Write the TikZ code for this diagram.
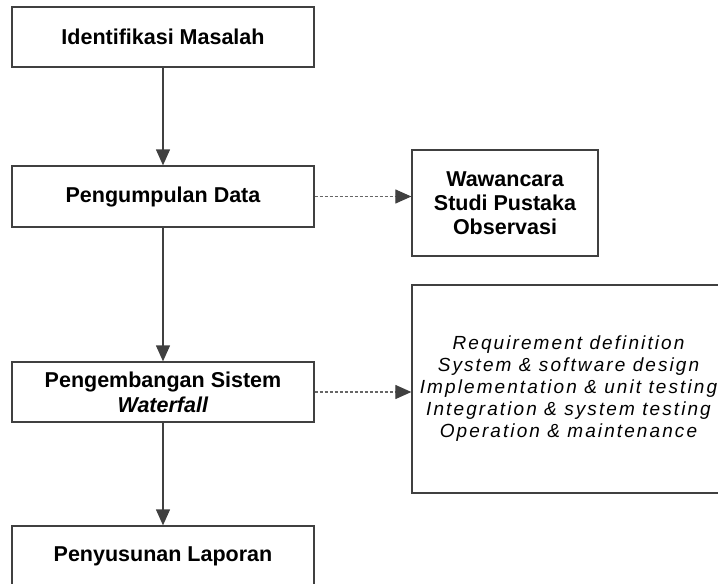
\documentclass[tikz,border=0pt]{standalone}
\usepackage{fontspec}
\setmainfont{Liberation Sans}
\newfontfamily\spacedit[LetterSpace=11]{Liberation Sans}
\usetikzlibrary{arrows.meta}
\begin{document}
\begin{tikzpicture}[x=1pt,y=-1pt,
  box/.style={draw=black!75,line width=1.3pt,fill=white,minimum width=302pt,minimum height=60pt,inner sep=0pt,align=center,
    font=\fontsize{21.5}{26}\selectfont\bfseries},
  flow/.style={draw=black!75,line width=1.3pt,-{Triangle[length=16pt,width=14pt]}},
  dflow/.style={draw=black!60,line width=1.2pt,dash pattern=on 3pt off 2pt,-{Triangle[length=16pt,width=14pt,color=black!75]}}]
\useasboundingbox (0,0) rectangle (718,584);
\node[box] (b1) at (163,37) {Identifikasi Masalah};
\node[box,minimum height=61pt] (b2) at (163,196.5) {Pengumpulan Data};
\node[box] (b3) at (163,392) {Pengembangan Sistem\\[-1pt]\textit{Waterfall}};
\node[box] (b4) at (163,556) {Penyusunan Laporan};
\node[box,minimum width=186pt,minimum height=106pt,font=\fontsize{21.5}{24}\selectfont\bfseries] (w) at (505,203) {Wawancara\\Studi Pustaka\\Observasi};
\node[box,minimum width=313pt,minimum height=208pt,font=\fontsize{19}{22}\selectfont\spacedit\itshape] (r) at (568.5,389) {Requirement definition\\System \& software design\\Implementation \& unit testing\\Integration \& system testing\\Operation \& maintenance};
\draw[flow] (b1.south) -- (b2.north);
\draw[flow] (b2.south) -- (b3.north);
\draw[flow] (b3.south) -- (b4.north);
\draw[dflow] (b2.east) -- (b2.east -| w.west);
\draw[dflow] (b3.east) -- (b3.east -| r.west);
\end{tikzpicture}
\end{document}
